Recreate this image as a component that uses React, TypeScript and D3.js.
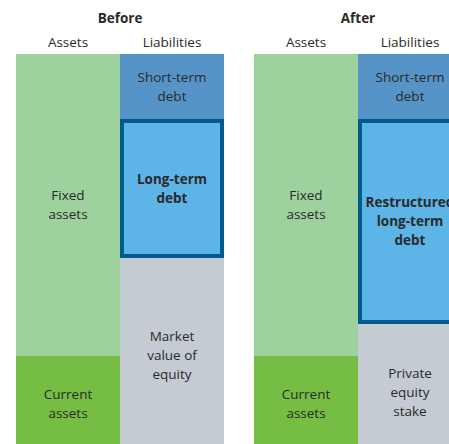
import React from 'react';
import * as d3 from 'd3';

// panels and their stacked blocks (values in arbitrary units, top to bottom)
const panels = ['Before', 'After'];
const sides = ['Assets', 'Liabilities'];

const beforeAssets = [
  { label: ['Fixed', 'assets'], value: 302, kind: 'fixed' },
  { label: ['Current', 'assets'], value: 96, kind: 'current' },
];
const beforeLiabilities = [
  { label: ['Short-term', 'debt'], value: 65, kind: 'short' },
  { label: ['Long-term', 'debt'], value: 139, kind: 'long' },
  { label: ['Market', 'value of', 'equity'], value: 194, kind: 'equity' },
];
const afterAssets = [
  { label: ['Fixed', 'assets'], value: 302, kind: 'fixed' },
  { label: ['Current', 'assets'], value: 96, kind: 'current' },
];
const afterLiabilities = [
  { label: ['Short-term', 'debt'], value: 65, kind: 'short' },
  { label: ['Restructured', 'long-term', 'debt'], value: 205, kind: 'long' },
  { label: ['Private', 'equity', 'stake'], value: 128, kind: 'equity' },
];

const columns: Record<string, typeof beforeAssets[]> = {
  Before: [beforeAssets, beforeLiabilities],
  After: [afterAssets, afterLiabilities],
};

const colors: Record<string, string> = {
  fixed: '#9dd19e',
  current: '#76bd43',
  short: '#5693c6',
  long: '#5db4e6',
  equity: '#c5cbd2',
};

const width = 449;
const height = 444;
const font = "'Open Sans', 'Noto Sans', sans-serif";
const textColor = '#2a2a2a';

export default function App() {
  const total = d3.sum(beforeAssets, (d) => d.value);
  const y = d3.scaleLinear().domain([0, total]).range([54, 452]);
  const xPanel = d3.scaleBand().domain(panels).range([16, 462]).paddingInner(30 / 238);
  const xSide = d3.scaleBand().domain(sides).range([0, xPanel.bandwidth()]);
  const lineH = 19;
  const fs = 13.5;

  return (
    <div style={{ position: 'fixed', left: 0, top: 0 }}>
      <svg width={width} height={height} style={{ display: 'block' }} fontFamily={font}>
        <rect width={width} height={height} fill="#fff" />
        {panels.map((p) => {
          const px = xPanel(p)!;
          return (
            <g key={p} transform={`translate(${px},0)`}>
              <text x={xPanel.bandwidth() / 2} y={23} textAnchor="middle" fontSize={fs}
                fontWeight="bold" fill={textColor}>{p}</text>
              {sides.map((s, si) => {
                const sx = xSide(s)!;
                const bw = xSide.bandwidth();
                const stack = columns[p][si];
                let acc = 0;
                const blocks = stack.map((d) => {
                  const y0 = acc;
                  acc += d.value;
                  return { ...d, y0, y1: acc };
                });
                return (
                  <g key={s}>
                    <text x={sx + bw / 2} y={47} textAnchor="middle" fontSize={fs} fill={textColor}>{s}</text>
                    {blocks.map((b) => {
                      const top = y(b.y0);
                      const h = y(b.y1) - y(b.y0);
                      // the bottom private-equity label sits a little lower in the original
                      const cy = top + h / 2 + (p === 'After' && b.kind === 'equity' ? 4 : 0);
                      const bold = b.kind === 'long';
                      return (
                        <g key={b.kind}>
                          <rect x={sx} y={top} width={bw} height={h} fill={colors[b.kind]} />
                          {bold && (
                            <rect x={sx + 2} y={top + 2} width={bw - 4} height={h - 4}
                              fill="none" stroke="#005a8c" strokeWidth={4} />
                          )}
                          <text textAnchor="middle" fontSize={fs} fill={textColor}
                            fontWeight={bold ? 'bold' : 'normal'}>
                            {b.label.map((l, i) => (
                              <tspan key={i} x={sx + bw / 2}
                                y={cy + (i - (b.label.length - 1) / 2) * lineH + 4.5}>{l}</tspan>
                            ))}
                          </text>
                        </g>
                      );
                    })}
                  </g>
                );
              })}
            </g>
          );
        })}
      </svg>
    </div>
  );
}
